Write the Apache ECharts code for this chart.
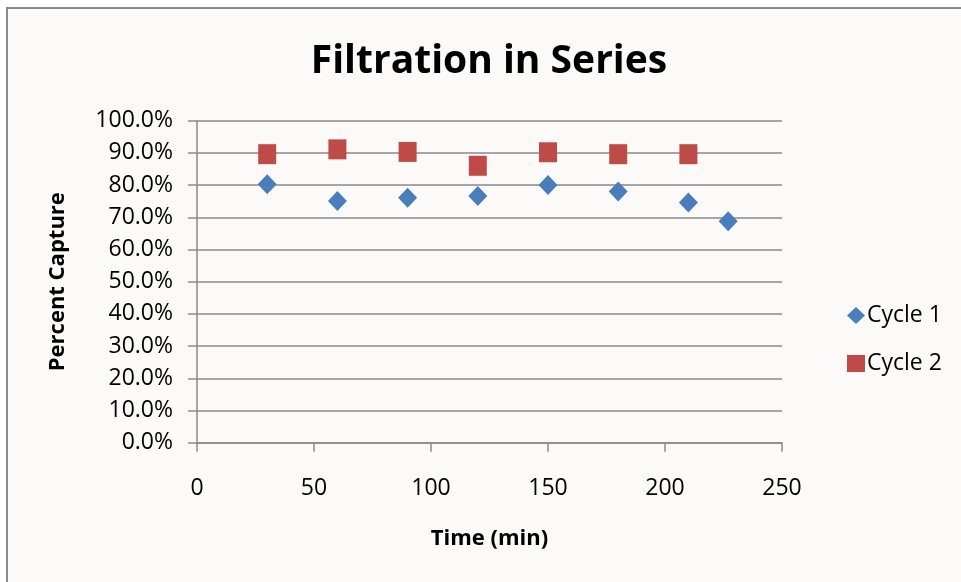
<!DOCTYPE html>
<html>
<head>
<meta charset="utf-8">
<script src="https://cdn.jsdelivr.net/npm/echarts@6/dist/echarts.min.js"></script>
<style>
  html, body { margin: 0; padding: 0; background: #ffffff; }
  #chart { width: 961px; height: 582px; }
</style>
</head>
<body>
<div id="chart"></div>
<script>
// Percent of material captured over time, two filtration cycles
const cycle1Time = [30, 60, 90, 120, 150, 180, 210, 227];
const cycle1Capture = [80.3, 75.1, 76.1, 76.6, 80.0, 78.0, 74.6, 68.8];
const cycle2Time = [30, 60, 90, 120, 150, 180, 210];
const cycle2Capture = [89.6, 91.1, 90.3, 86.0, 90.2, 89.6, 89.6];
const seriesNames = ['Cycle 1', 'Cycle 2'];

const pairs = (xs, ys) => xs.map((x, i) => [x, ys[i]]);

const font = '"Open Sans", Lato, sans-serif';
const gridColor = '#8a8a8a';

const chart = echarts.init(document.getElementById('chart'), null, { renderer: 'canvas' });

chart.setOption({
  animation: false,
  backgroundColor: '#ffffff',
  graphic: [
    {
      type: 'rect', z: -10, silent: true,
      shape: { x: 7, y: 8, width: 1000, height: 600 },
      style: { fill: '#fbfaf8', stroke: '#8a8a8a', lineWidth: 2 }
    },
    {
      type: 'text', z: -20, silent: true, left: 338, top: -16,
      style: { text: '227', fontSize: 20, fontFamily: font, fill: '#000' }
    },
    {
      type: 'text', z: -20, silent: true, left: 470, top: -16,
      style: { text: '68.8%', fontSize: 20, fontFamily: font, fill: '#000' }
    }
  ],
  title: {
    text: 'Filtration in Series',
    left: 484, top: 37, textAlign: 'center',
    textStyle: { fontFamily: font, fontSize: 39, fontWeight: 'bold', color: '#000' }
  },
  grid: { left: 197, right: 179, top: 120.7, bottom: 139.3, containLabel: false },
  legend: {
    orient: 'vertical',
    left: 842, top: 299,
    itemGap: 25, itemWidth: 18, itemHeight: 17,
    textStyle: { fontFamily: font, fontSize: 23, color: '#000', padding: [0, 0, 0, -3] },
    data: seriesNames
  },
  xAxis: {
    type: 'value', min: 0, max: 250, interval: 50,
    name: 'Time (min)', nameLocation: 'middle', nameGap: 85,
    nameTextStyle: { fontFamily: font, fontSize: 22, fontWeight: 'bold', color: '#000' },
    axisLine: { show: true, lineStyle: { color: gridColor, width: 1.5 } },
    axisTick: { show: true, inside: false, length: 9, lineStyle: { color: gridColor, width: 1.5 } },
    axisLabel: { fontFamily: font, fontSize: 23, color: '#000', margin: 34 },
    splitLine: { show: false }
  },
  yAxis: {
    type: 'value', min: 0, max: 100, interval: 10,
    name: 'Percent Capture', nameLocation: 'middle', nameGap: 128, nameRotate: 90,
    nameTextStyle: { fontFamily: font, fontSize: 22, fontWeight: 'bold', color: '#000' },
    axisLine: { show: true, lineStyle: { color: gridColor, width: 1.5 } },
    axisTick: { show: true, inside: false, length: 9, lineStyle: { color: gridColor, width: 1.5 } },
    axisLabel: {
      fontFamily: font, fontSize: 23, color: '#000', margin: 24,
      formatter: v => v.toFixed(1) + '%'
    },
    splitLine: { show: true, lineStyle: { color: gridColor, width: 1.5 } }
  },
  series: [
    {
      name: seriesNames[0], type: 'scatter',
      symbol: 'diamond', symbolSize: [19, 20],
      itemStyle: { color: '#4a7ebb', opacity: 1 },
      data: pairs(cycle1Time, cycle1Capture)
    },
    {
      name: seriesNames[1], type: 'scatter',
      symbol: 'rect', symbolSize: [18, 20],
      itemStyle: { color: '#be4b48', opacity: 1 },
      data: pairs(cycle2Time, cycle2Capture)
    }
  ]
});
</script>
</body>
</html>
